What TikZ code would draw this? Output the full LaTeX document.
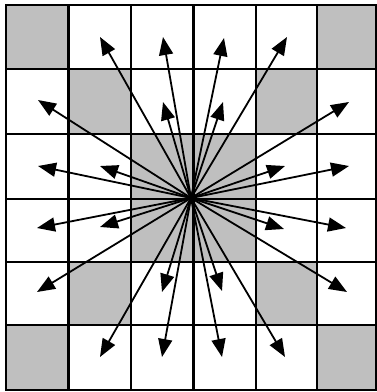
\documentclass[tikz,border=0pt]{standalone}
\usetikzlibrary{arrows.meta}
\begin{document}
\begin{tikzpicture}[x=1pt,y=-1pt,
  shadecell/.style={fill=black!25},
  gridline/.style={line width=2.2pt},
  frameline/.style={line width=2.8pt},
  ray/.style={line width=1.8pt,-{Triangle[length=18pt,width=14pt]}}]
\useasboundingbox (0,0) rectangle (377,392);
\def\xs{{6,68.5,131,193.5,256,317,376}}
\def\ys{{5,69,134,199,262,325,390}}
% shaded cells (col,row)
\foreach \c/\r in {0/0,5/0,1/1,4/1,2/2,3/2,2/3,3/3,1/4,4/4,0/5,5/5}{
  \pgfmathsetmacro{\xa}{\xs[\c]}
  \pgfmathsetmacro{\xb}{\xs[\c+1]}
  \pgfmathsetmacro{\ya}{\ys[\r]}
  \pgfmathsetmacro{\yb}{\ys[\r+1]}
  \fill[shadecell] (\xa,\ya) rectangle (\xb,\yb);
}
% grid
\foreach \i in {1,...,5}{
  \pgfmathsetmacro{\xx}{\xs[\i]}
  \pgfmathsetmacro{\yy}{\ys[\i]}
  \draw[gridline] (\xx,5) -- (\xx,390);
  \draw[gridline] (6,\yy) -- (376,\yy);
}
\draw[frameline] (6,5) rectangle (376,390);
% centre and tips
\coordinate (c) at (191,198);
\coordinate (t1) at (100,37);  \coordinate (t2) at (163,37);
\coordinate (t3) at (224,38);  \coordinate (t4) at (287,37);
\coordinate (t5) at (38,100);  \coordinate (t6) at (163,102);
\coordinate (t7) at (223,102); \coordinate (t8) at (349,102);
\coordinate (t9) at (38,166);  \coordinate (t10) at (100,166);
\coordinate (t11) at (285,166);\coordinate (t12) at (349,166);
\coordinate (t13) at (37,228); \coordinate (t14) at (100,227);
\coordinate (t15) at (284,229);\coordinate (t16) at (346,228);
\coordinate (t17) at (37,292); \coordinate (t18) at (162,292);
\coordinate (t19) at (222,291);\coordinate (t20) at (347,292);
\coordinate (t21) at (100,357);\coordinate (t22) at (162,357);
\coordinate (t23) at (222,357);\coordinate (t24) at (285,357);
\foreach \k in {1,...,24}{
  \draw[ray] (c) -- (t\k);
}
\end{tikzpicture}
\end{document}
